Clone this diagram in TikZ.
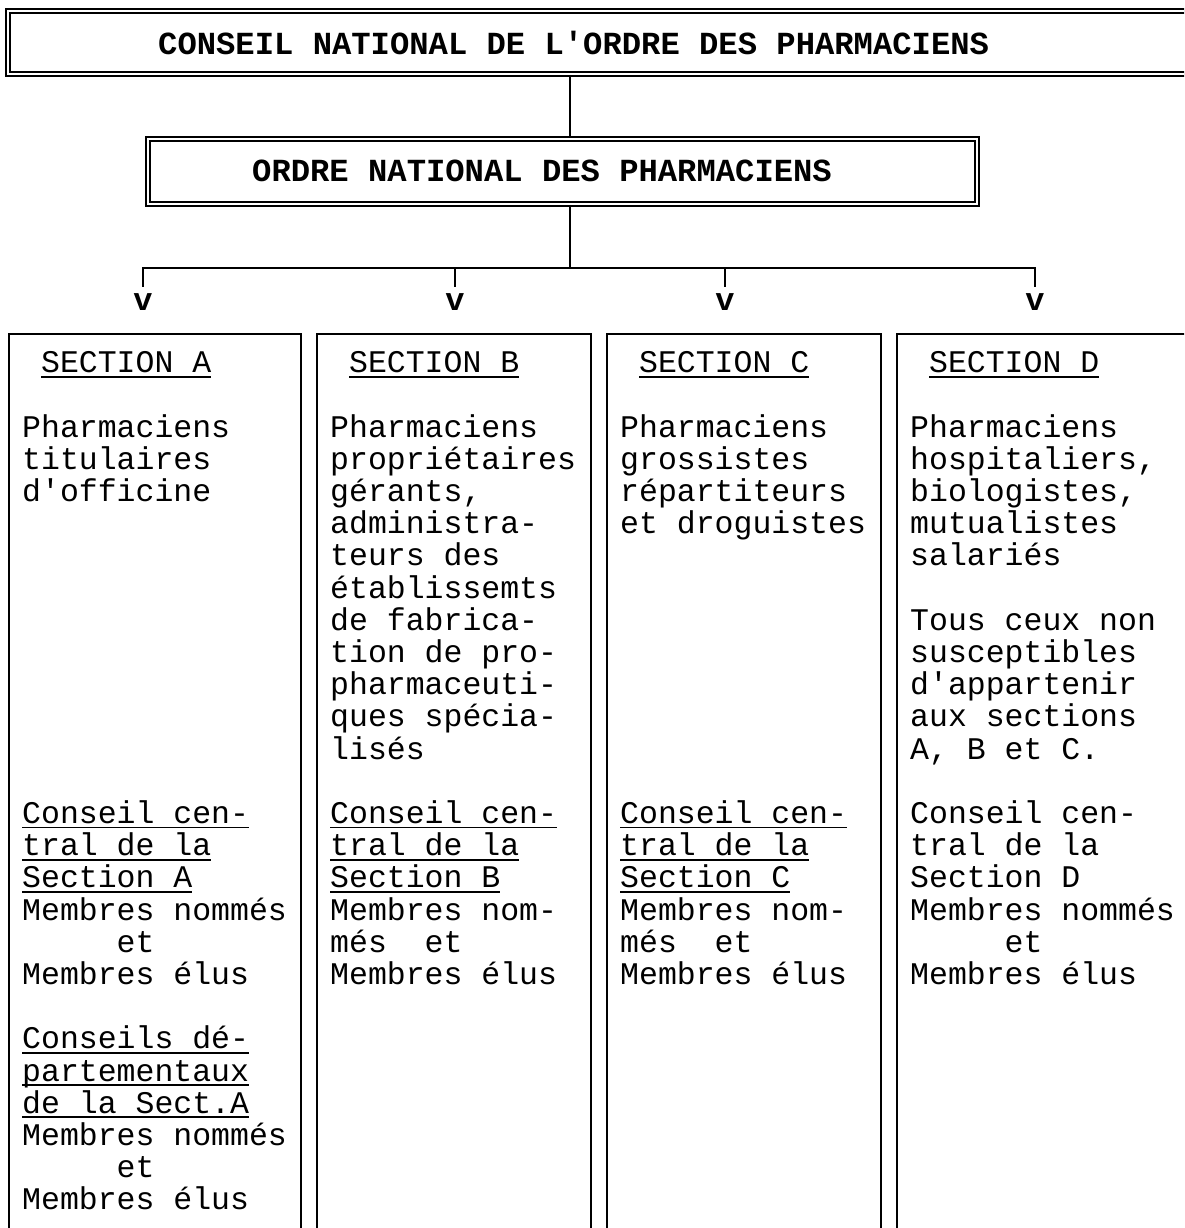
\documentclass[tikz,border=0pt]{standalone}
\usepackage{fontspec}
\setmonofont{Liberation Mono}
\newcommand{\ulx}[1]{\setbox0=\hbox{#1}\rlap{\rule[-5pt]{\wd0}{1.8pt}}\box0}
\tikzset{
 body/.style={anchor=base west, inner sep=0pt, font=\ttfamily\fontsize{31.5}{32}\selectfont},
 title/.style={anchor=base west, inner sep=0pt, font=\ttfamily\bfseries\fontsize{32.2}{33}\selectfont},
 dblbox/.style={draw, double, double distance=2.5pt, line width=1.6pt, inner sep=0pt},
 colbox/.style={draw, line width=2.4pt, inner sep=0pt, anchor=north west, minimum height=920pt},
 link/.style={line width=2pt},
 arr/.style={anchor=base, inner sep=0pt, font=\ttfamily\bfseries\fontsize{32}{33}\selectfont},
}
\begin{document}
\begin{tikzpicture}[x=1pt,y=-1pt]
\useasboundingbox (0,0) rectangle (1184,1228);
\clip (0,0) rectangle (1184,1228);

% title boxes
\node[dblbox, minimum width=1192pt, minimum height=63pt] (conseil) at (604,42.5) {};
\node[title] (conseilT) at (158,55) {CONSEIL NATIONAL DE L'ORDRE DES PHARMACIENS};
\node[dblbox, minimum width=829pt, minimum height=65pt] (ordre) at (562.5,171.5) {};
\node[title] (ordreT) at (252,181) {ORDRE NATIONAL DES PHARMACIENS};

% arrow heads (typed v)
\node[arr] (vA) at (143,310) {v};
\node[arr] (vB) at (455,310) {v};
\node[arr] (vC) at (725,310) {v};
\node[arr] (vD) at (1035,310) {v};

% connectors
\coordinate (j1) at (570,268);
\draw[link] (j1 |- conseil.south) -- (j1 |- ordre.north);
\draw[link] (j1 |- ordre.south) -- (j1);
\draw[link] ([yshift=6pt]vA.north) |- (j1) -| ([yshift=6pt]vD.north);
\draw[link] ([yshift=6pt]vB.north) -- (vB.north |- j1);
\draw[link] ([yshift=6pt]vC.north) -- (vC.north |- j1);

% section boxes (open at the bottom of the page)
\node[colbox, minimum width=292pt] (boxA) at (8,333) {};
\node[colbox, minimum width=274pt] (boxB) at (316,333) {};
\node[colbox, minimum width=274pt] (boxC) at (606,333) {};
\node[colbox, minimum width=320pt] (boxD) at (896,333) {};

% column A
\foreach \r/\t [count=\i] in {
 -2/{\hphantom{x}\ulx{SECTION A}},
 0/Pharmaciens, 1/titulaires, 2/{d'officine},
 12/{\ulx{Conseil cen-}}, 13/{\ulx{tral de la}}, 14/{\ulx{Section A}},
 15/{Membres nommés}, 16/{\hphantom{xxxxx}et}, 17/{Membres élus},
 19/{\ulx{Conseils dé-}}, 20/{\ulx{partementaux}}, 21/{\ulx{de la Sect.A}},
 22/{Membres nommés}, 23/{\hphantom{xxxxx}et}, 24/{Membres élus}}
 \node[body] (A\i) at (22,{437+32.2*\r}) {\t};

% column B
\foreach \r/\t [count=\i] in {
 -2/{\hphantom{x}\ulx{SECTION B}},
 0/Pharmaciens, 1/propriétaires, 2/{gérants,}, 3/{administra-},
 4/{teurs des}, 5/{établissemts}, 6/{de fabrica-}, 7/{tion de pro-},
 8/{pharmaceuti-}, 9/{ques spécia-}, 10/{lisés},
 12/{\ulx{Conseil cen-}}, 13/{\ulx{tral de la}}, 14/{\ulx{Section B}},
 15/{Membres nom-}, 16/{més\hphantom{xx}et}, 17/{Membres élus}}
 \node[body] (B\i) at (330,{437+32.2*\r}) {\t};

% column C
\foreach \r/\t [count=\i] in {
 -2/{\hphantom{x}\ulx{SECTION C}},
 0/Pharmaciens, 1/grossistes, 2/{répartiteurs}, 3/{et droguistes},
 12/{\ulx{Conseil cen-}}, 13/{\ulx{tral de la}}, 14/{\ulx{Section C}},
 15/{Membres nom-}, 16/{més\hphantom{xx}et}, 17/{Membres élus}}
 \node[body] (C\i) at (620,{437+32.2*\r}) {\t};

% column D
\foreach \r/\t [count=\i] in {
 -2/{\hphantom{x}\ulx{SECTION D}},
 0/Pharmaciens, 1/{hospitaliers,}, 2/{biologistes,}, 3/{mutualistes}, 4/{salariés},
 6/{Tous ceux non}, 7/{susceptibles}, 8/{d'appartenir}, 9/{aux sections}, 10/{A, B et C.},
 12/{Conseil cen-}, 13/{tral de la}, 14/{Section D},
 15/{Membres nommés}, 16/{\hphantom{xxxxx}et}, 17/{Membres élus}}
 \node[body] (D\i) at (910,{437+32.2*\r}) {\t};
\end{tikzpicture}
\end{document}
